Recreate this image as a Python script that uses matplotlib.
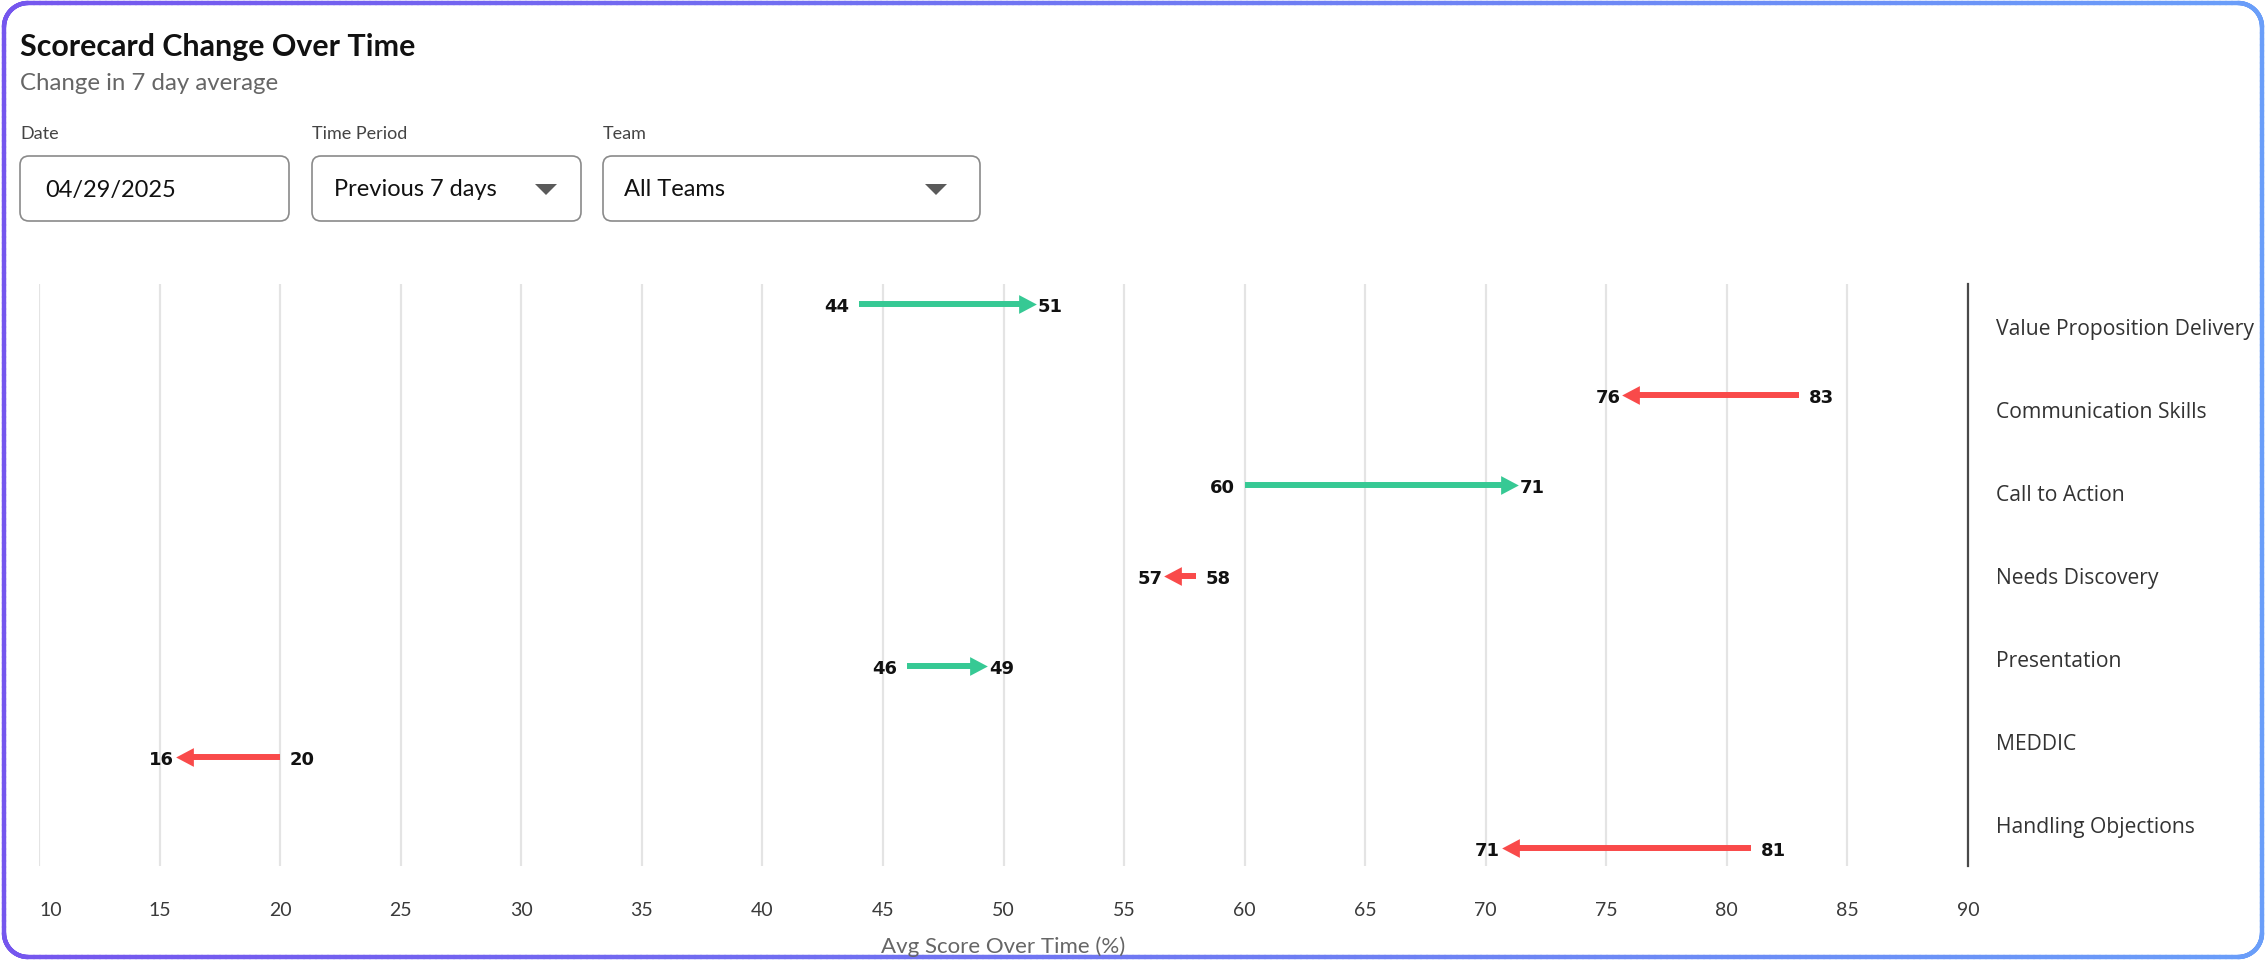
import numpy as np
import matplotlib
matplotlib.use("Agg")
import matplotlib.pyplot as plt
from matplotlib.patches import FancyBboxPatch, Polygon
from matplotlib.collections import LineCollection
from matplotlib.colors import LinearSegmentedColormap

# ---------------- data ----------------
categories = ["Value Proposition Delivery", "Communication Skills", "Call to Action",
              "Needs Discovery", "Presentation", "MEDDIC", "Handling Objections"]
start_scores = [44, 83, 60, 58, 46, 20, 81]
end_scores = [51, 76, 71, 57, 49, 16, 71]
x_ticks = list(range(10, 95, 5))

title = "Scorecard Change Over Time"
subtitle = "Change in 7 day average"
filter_labels = ["Date", "Time Period", "Team"]
filter_values = ["04/29/2025", "Previous 7 days", "All Teams"]
x_label = "Avg Score Over Time (%)"

# ---------------- styles ----------------
GREEN = "#36C994"
RED = "#F94A4A"
UI_FONT = ["Lato", "DejaVu Sans"]
LBL_FONT = ["Open Sans", "DejaVu Sans"]

W, H = 2266, 962
fig = plt.figure(figsize=(W / 100, H / 100), dpi=100)
fig.patch.set_facecolor("white")

# UI overlay in pixel coords
ui = fig.add_axes([0, 0, 1, 1])
ui.set_xlim(0, W)
ui.set_ylim(H, 0)
ui.axis("off")


def rounded_rect_pts(x0, y0, x1, y1, r, n=30):
    corners = [(x1 - r, y0 + r, -90, 0), (x1 - r, y1 - r, 0, 90),
               (x0 + r, y1 - r, 90, 180), (x0 + r, y0 + r, 180, 270)]
    pts = []
    for cx, cy, a0, a1 in corners:
        for a in np.linspace(np.radians(a0), np.radians(a1), n):
            pts.append((cx + r * np.cos(a), cy + r * np.sin(a)))
    pts.append(pts[0])
    pts = np.array(pts)
    dense = []
    for p, q in zip(pts[:-1], pts[1:]):
        d = np.hypot(*(q - p))
        k = max(2, int(d / 6))
        for t in np.linspace(0, 1, k, endpoint=False):
            dense.append(p + (q - p) * t)
    dense.append(pts[-1])
    return np.array(dense)


bp = rounded_rect_pts(4, 4, W - 4, H - 4, 24)
segs = np.stack([bp[:-1], bp[1:]], axis=1)
cmap = LinearSegmentedColormap.from_list("brd", ["#7556EE", "#6F78F2", "#6A9EF9"])
lc = LineCollection(segs, cmap=cmap, linewidths=3.2, capstyle="round")
lc.set_array((segs[:, 0, 0] + segs[:, 1, 0]) / 2 / W)
lc.set_clim(0, 1)
ui.add_collection(lc)

# title / subtitle
ui.text(20, 47, title, fontsize=21.9, fontweight="bold", color="#111111",
        family=UI_FONT, va="center", ha="left")
ui.text(20, 84, subtitle, fontsize=17.3, color="#666666", family=UI_FONT,
        va="center", ha="left")

# filter boxes
box_x = [(20, 289), (312, 581), (603, 980)]
box_y = (157, 222)
text_x = [45, 334, 624]
for (bx0, bx1), lab, val, tx, idx in zip(box_x, filter_labels, filter_values, text_x, range(3)):
    ui.text(bx0, 134, lab, fontsize=13, color="#444444", family=UI_FONT,
            va="center", ha="left")
    ui.add_patch(FancyBboxPatch((bx0, box_y[0]), bx1 - bx0, box_y[1] - box_y[0],
                                boxstyle="round,pad=0,rounding_size=9",
                                fc="white", ec="#8a8a8a", lw=1.2))
    ui.text(tx, 190, val, fontsize=17, color="#111111", family=UI_FONT,
            va="center", ha="left")
    if idx > 0:
        cx = bx1 - 35 if idx == 1 else bx1 - 44
        ui.add_patch(Polygon([(cx - 11, 185), (cx + 11, 185), (cx, 196)],
                             closed=True, fc="#5a5a5a", ec="none"))

# ---------------- chart ----------------
L, R, T, B = 39, 1968, 285, 867
ax = fig.add_axes([L / W, 1 - B / H, (R - L) / W, (B - T) / H])
ax.set_facecolor("none")
ax.set_xlim(10, 90)
ax.set_ylim(6.204, -0.223)
ax.set_xticks(x_ticks)
ax.set_xticklabels([str(v) for v in x_ticks], family=UI_FONT)
ax.set_yticks([])
for s in ["left", "top", "bottom"]:
    ax.spines[s].set_visible(False)
ax.spines["right"].set_color("#4a4a4a")
ax.spines["right"].set_linewidth(1.6)
ax.tick_params(axis="x", length=0, pad=25, labelsize=14, labelcolor="#3a3a3a")
ax.xaxis.get_major_ticks()[0].label1.set_horizontalalignment("left")
ax.grid(axis="x", color="#e4e4e4", lw=1.6)
ax.set_axisbelow(True)
ax.set_xlabel(x_label, fontsize=16, color="#666666", family=UI_FONT, labelpad=13)

right_tri = [(-1, -1), (0.89, 0), (-1, 1)]
left_tri = [(1, -1), (-0.89, 0), (1, 1)]

for i, (s, e) in enumerate(zip(start_scores, end_scores)):
    up = e > s
    c = GREEN if up else RED
    ax.plot([s, e], [i, i], color=c, lw=4.3, solid_capstyle="butt", zorder=3)
    ax.plot([e], [i], marker=right_tri if up else left_tri, ms=13.5, color=c,
            mew=0, zorder=4)
    lo, hi = min(s, e), max(s, e)
    ax.annotate(str(lo), (lo, i), xytext=(-7, -1.5), textcoords="offset points",
                ha="right", va="center", fontsize=13, fontweight="bold",
                color="#111111", family=["DejaVu Sans"])
    ax.annotate(str(hi), (hi, i), xytext=(7, -1.5), textcoords="offset points",
                ha="left", va="center", fontsize=13, fontweight="bold",
                color="#111111", family=["DejaVu Sans"])

# category labels on right
ax2 = ax.twinx()
ax2.set_ylim(6.5, -0.5)
ax2.set_yticks(range(len(categories)))
ax2.set_yticklabels(categories, family=LBL_FONT)
ax2.tick_params(axis="y", length=0, pad=20, labelsize=15.2, labelcolor="#333333")
for s in ax2.spines.values():
    s.set_visible(False)

fig.savefig("out.png", dpi=100, facecolor="white")
